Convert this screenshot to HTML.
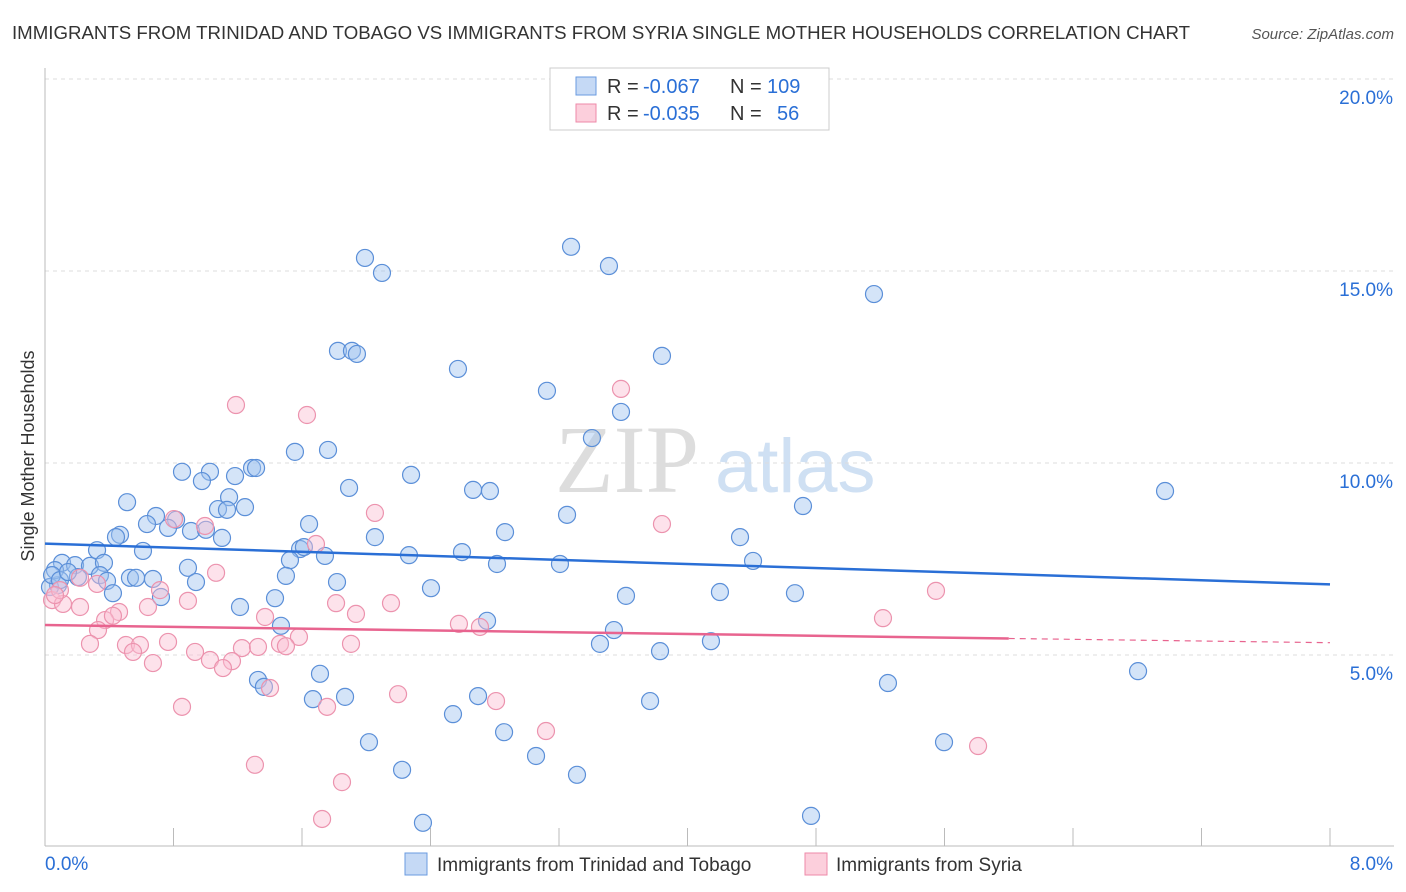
<!DOCTYPE html>
<html><head><meta charset="utf-8"><style>
body{margin:0;background:#fff;font-family:"Liberation Sans",sans-serif;}
svg{display:block}
</style></head><body>
<svg id="chart" width="1406" height="892">
<text x="12" y="39" font-size="18" fill="#333" textLength="1178" lengthAdjust="spacingAndGlyphs">IMMIGRANTS FROM TRINIDAD AND TOBAGO VS IMMIGRANTS FROM SYRIA SINGLE MOTHER HOUSEHOLDS CORRELATION CHART</text>
<text x="1394" y="39" font-size="15" fill="#555" text-anchor="end" font-style="italic">Source: ZipAtlas.com</text>
<text x="555" y="492" font-size="96" fill="#ddd" font-family="Liberation Serif,serif">ZIP</text>
<text x="715" y="492" font-size="76" fill="#cfe0f3">atlas</text>
<text x="34" y="456" font-size="18" fill="#333" text-anchor="middle" transform="rotate(-90 34 456)">Single Mother Households</text>
<g id="grid"></g><g id="pts"></g><g id="lines"></g>
<g>
<rect x="550" y="68" width="279" height="62" fill="#fff" stroke="#ccc"/>
<rect x="576" y="77" width="20" height="18" fill="#c5d9f5" stroke="#6a9be0"/>
<rect x="576" y="104" width="20" height="18" fill="#fccfdc" stroke="#ee8aa8"/>
<text x="607" y="93" font-size="20" fill="#333">R =</text>
<text x="643" y="93" font-size="20" fill="#2a6fd6">-0.067</text>
<text x="730" y="93" font-size="20" fill="#333">N =</text>
<text x="767" y="93" font-size="20" fill="#2a6fd6">109</text>
<text x="607" y="120" font-size="20" fill="#333">R =</text>
<text x="643" y="120" font-size="20" fill="#2a6fd6">-0.035</text>
<text x="730" y="120" font-size="20" fill="#333">N =</text>
<text x="777" y="120" font-size="20" fill="#2a6fd6">56</text>
</g>
<g>
<rect x="405" y="853" width="22" height="22" fill="#c5d9f5" stroke="#6a9be0"/>
<text x="437" y="871" font-size="19" fill="#333">Immigrants from Trinidad and Tobago</text>
<rect x="805" y="853" width="22" height="22" fill="#fccfdc" stroke="#ee8aa8"/>
<text x="836" y="871" font-size="19" fill="#333">Immigrants from Syria</text>
</g>
</svg>
<script>
const xTicks=[0,0.8,1.6,2.4,3.2,4,4.8,5.6,6.4,7.2,8];
const yTicks=[5,10,15,20];
const xLabels=["0.0%","8.0%"];
const bluePx=[[365,258],[382,273],[571,247],[609,266],[874,294],[338,351],[352,351],[357,354],[662,356],[458,369],[547,391],[621,412],[592,438],[295,452],[328,450],[182,472],[210,472],[202,481],[252,468],[256,468],[235,476],[411,475],[349,488],[473,490],[490,491],[1165,491],[127,502],[229,497],[218,509],[227,510],[245,507],[803,506],[156,516],[176,520],[147,524],[168,528],[191,531],[206,530],[309,524],[567,515],[505,532],[120,535],[116,537],[222,538],[375,537],[740,537],[97,550],[143,551],[300,549],[304,547],[325,556],[409,555],[462,552],[290,560],[753,561],[560,564],[497,564],[62,563],[75,565],[90,566],[104,563],[188,568],[286,576],[100,575],[130,578],[136,578],[153,579],[78,577],[107,581],[196,582],[337,582],[431,588],[58,585],[50,587],[113,593],[161,597],[626,596],[720,592],[795,593],[275,598],[240,607],[281,626],[487,621],[614,630],[600,644],[660,651],[711,641],[1138,671],[320,674],[258,680],[264,687],[478,696],[313,699],[345,697],[650,701],[888,683],[453,714],[504,732],[369,742],[944,742],[536,756],[402,770],[577,775],[811,816],[423,823],[55,570],[52,575],[60,580],[68,572]];
const pinkPx=[[621,389],[236,405],[307,415],[375,513],[174,519],[662,524],[205,526],[316,544],[216,573],[80,578],[97,584],[160,590],[936,591],[52,600],[63,604],[80,607],[188,601],[336,603],[391,603],[119,612],[148,607],[265,617],[356,614],[105,620],[113,616],[98,630],[459,624],[480,627],[883,618],[299,637],[90,644],[126,645],[140,645],[168,642],[280,644],[286,646],[351,644],[242,648],[133,652],[195,652],[258,647],[210,660],[232,661],[153,663],[223,668],[270,688],[398,694],[496,701],[182,707],[327,707],[546,731],[978,746],[255,765],[342,782],[322,819],[60,590],[55,595]];
const blueX=bluePx.map(p=>+((p[0]-45)/1285*8).toFixed(3));
const blueY=bluePx.map(p=>+((847-p[1])/38.4).toFixed(2));
const pinkX=pinkPx.map(p=>+((p[0]-45)/1285*8).toFixed(3));
const pinkY=pinkPx.map(p=>+((847-p[1])/38.4).toFixed(2));
const blueTrend=[7.9,6.84];
const pinkTrend=[5.78,5.43,5.32];
const X=v=>45+v/8*1285, Y=v=>847-v*38.4;
const NS="http://www.w3.org/2000/svg";
function mk(tag,attrs,parent){const e=document.createElementNS(NS,tag);for(const k in attrs)e.setAttribute(k,attrs[k]);parent.appendChild(e);return e;}
const grid=document.getElementById('grid');
for(const t of yTicks){
 const l=mk('line',{x1:45,x2:1394,y1:Y(t),y2:Y(t),stroke:'#ddd','stroke-dasharray':'4 4'},grid);
 
 
 const tx=mk('text',{x:1393,y:Y(t)+25,'font-size':19,fill:'#2a6fd6','text-anchor':'end'},grid);
 tx.textContent=t.toFixed(1)+'%';
 
 
}
const ax=mk('line',{x1:45,x2:45,y1:68,y2:846,stroke:'#bbb'},grid);


const bx=mk('line',{x1:45,x2:1394,y1:846,y2:846,stroke:'#bbb'},grid);


for(const t of xTicks){const tk=mk('line',{x1:X(t),x2:X(t),y1:828,y2:846,stroke:'#bbb'},grid);
 
 }
const xl0=mk('text',{x:45,y:870,'font-size':19,fill:'#2a6fd6'},grid);xl0.textContent=xLabels[0];
const xl1=mk('text',{x:1393,y:870,'font-size':19,fill:'#2a6fd6','text-anchor':'end'},grid);xl1.textContent=xLabels[1];
const pts=document.getElementById('pts');
blueX.forEach((v,i)=>{const c=mk('circle',{cx:X(v),cy:Y(blueY[i]),r:8.5,fill:'rgba(160,195,240,0.45)',stroke:'#5b8fd8','stroke-width':1.2},pts);
 
 });
pinkX.forEach((v,i)=>{const c=mk('circle',{cx:X(v),cy:Y(pinkY[i]),r:8.5,fill:'rgba(250,190,210,0.45)',stroke:'#ec93ae','stroke-width':1.2},pts);
 
 });
const ln=document.getElementById('lines');
const bl=mk('line',{x1:X(0),y1:Y(blueTrend[0]),x2:X(8),y2:Y(blueTrend[1]),stroke:'#2a6fd6','stroke-width':2.5},ln);


const pl=mk('line',{x1:X(0),y1:Y(pinkTrend[0]),x2:X(6),y2:Y(pinkTrend[1]),stroke:'#e8648f','stroke-width':2.5},ln);


const pd=mk('line',{x1:X(6),y1:Y(pinkTrend[1]),x2:X(8),y2:Y(pinkTrend[2]),stroke:'#e8648f','stroke-width':1.2,'stroke-dasharray':'6 5'},ln);


</script>
</body></html>
